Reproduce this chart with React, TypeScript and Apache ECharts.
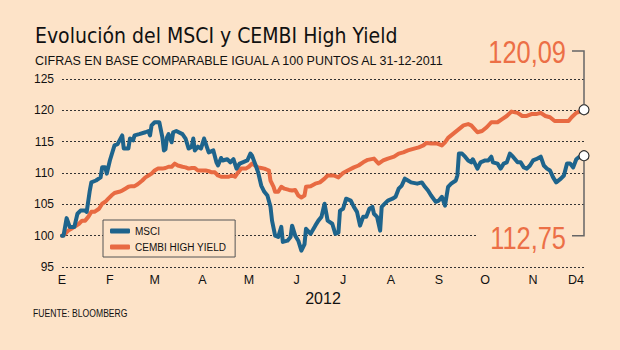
import React, { useEffect, useRef } from "react";
import * as echarts from "echarts";

const titleText = "Evolución del MSCI y CEMBI High Yield";
const subtitleText = "CIFRAS EN BASE COMPARABLE IGUAL A 100 PUNTOS AL 31-12-2011";
const sourceText = "FUENTE: BLOOMBERG";
const yearLabel = "2012";
const monthLetters = ["E", "F", "M", "A", "M", "J", "J", "A", "S", "O", "N", "D4"];
const seriesNames = ["MSCI", "CEMBI HIGH YIELD"];
const endLabels = ["112,75", "120,09"];
const yMin = 95;
const yMax = 125;
const yStep = 5;

// days counted from 1 Jan 2012
const msciDays = [
  0, 1, 3, 5, 8, 10, 12, 15, 16, 18, 19, 22, 25, 26, 28, 29, 31, 34, 36, 39, 40, 43, 44, 46, 47, 50,
  54, 56, 57, 58, 60, 63, 65, 66, 67, 68, 69, 70, 71, 72, 74, 78, 80, 82, 84, 85, 86, 88, 90, 92, 94,
  95, 98, 100, 101, 103, 104, 107, 109, 111, 113, 115, 117, 120, 122, 123, 125, 127, 129, 131, 133,
  135, 136, 138, 140, 142, 143, 146, 148, 149, 151, 153, 155, 157, 158, 161, 164, 166, 168, 170, 172,
  175, 177, 179, 180, 182, 184, 187, 189, 191, 193, 195, 197, 199, 201, 202, 204, 206, 207, 209, 211,
  214, 216, 218, 220, 222, 224, 226, 230, 233, 235, 237, 239, 242, 244, 246, 248, 250, 252, 255, 256,
  257, 259, 261, 263, 265, 266, 269, 271, 274, 276, 278, 279, 282, 284, 286, 288, 290, 292, 295, 297,
  299, 301, 303, 305, 307, 310, 312, 314, 316, 318, 320, 323, 325, 327, 329, 331, 333, 336, 338,
];
const msciValues = [
  100, 100, 102.8, 101.4, 101.4, 103.5, 104, 104, 103.8, 107.2, 108.5, 108.8, 109.3, 110.9, 110.9,
  109.9, 112, 114.4, 114.6, 116, 113.9, 113.9, 115.5, 115.2, 116, 116.2, 116.5, 116.7, 116, 117.6,
  118.1, 118.1, 115.7, 113.6, 113.8, 115.7, 116.2, 115.5, 114.9, 116.5, 116.7, 116.2, 115.5, 113.9,
  114.2, 115.5, 113.6, 114.2, 113.9, 115.5, 114, 113.3, 113.6, 111.7, 111.2, 112.4, 112, 112.2, 111.7,
  112.2, 110.7, 111.5, 111.7, 112, 113.1, 112.8, 111.5, 110.1, 108, 107, 106.4, 104.6, 102.4, 100,
  99.8, 101.4, 99, 99.2, 99.8, 101.6, 100, 99.2, 97.6, 98.6, 101.1, 100.3, 101.6, 102.4, 103, 105.1,
  102.4, 101.9, 100.3, 100.5, 104, 104.3, 105.9, 105.6, 104.6, 103.8, 101.6, 103, 103, 104.3, 104.6,
  103.5, 103, 100.8, 104.6, 105.1, 105.6, 105.9, 106.2, 107.5, 108, 109.1, 108.8, 108.5, 108.3, 108.5,
  107.8, 107.2, 106.4, 105.4, 105.6, 106.2, 104.8, 107.8, 108.3, 108.8, 109.6, 113.1, 113.1, 112.6,
  112, 111.7, 112.2, 110.7, 111.7, 112, 112, 112.6, 111.7, 111.5, 110.7, 111.5, 111.7, 113.1, 112.6,
  111.7, 111.7, 110.9, 110.7, 111.2, 112, 112.2, 112.6, 111.2, 110.7, 110.4, 109.3, 108.5, 109.1,
  109.6, 111.5, 111.5, 110.9, 112.2, 112.8, 112.75,
];
const cembiDays = [
  0, 2, 4, 6, 8, 11, 13, 15, 17, 19, 21, 24, 26, 28, 30, 32, 34, 37, 39, 41, 43, 45, 47, 49, 52, 54,
  56, 58, 60, 62, 65, 67, 69, 71, 73, 75, 78, 80, 82, 84, 86, 88, 90, 93, 95, 97, 99, 101, 103, 106,
  108, 110, 112, 114, 116, 119, 121, 123, 125, 127, 129, 131, 134, 135, 137, 138, 140, 142, 144, 147,
  149, 151, 153, 155, 157, 158, 161, 164, 167, 170, 172, 176, 179, 182, 185, 189, 192, 195, 198, 202,
  205, 208, 211, 215, 218, 221, 224, 228, 231, 234, 236, 239, 243, 246, 248, 250, 253, 257, 260, 263,
  265, 269, 272, 275, 278, 282, 285, 288, 291, 295, 298, 301, 304, 307, 310, 313, 316, 319, 321, 325,
  328, 330, 333, 338,
];
const cembiValues = [
  100, 100.3, 100.8, 101.1, 101.4, 101.9, 102.4, 102.4, 103, 103.8, 103.8, 104.3, 105.1, 105.4, 105.9,
  106.4, 106.8, 107, 107.2, 107.5, 107.8, 107.9, 107.9, 108.2, 108.8, 109.3, 109.6, 109.9, 110.4,
  110.7, 110.7, 110.8, 111, 111, 111.5, 111.2, 111, 110.9, 110.7, 110.8, 110.8, 110.4, 110.4, 110.4,
  110.3, 110.1, 110.1, 109.6, 109.4, 109.4, 109.4, 109.6, 109.4, 110.1, 110.7, 110.7, 111, 111.5,
  111.2, 110.9, 110.8, 110.7, 110.4, 108.8, 107.8, 107, 107, 107.8, 107.5, 107.3, 107.2, 107.3, 106.4,
  106.1, 106.4, 107.8, 107.9, 108.3, 108.5, 109.1, 109.6, 109.6, 109.3, 110, 110.4, 110.9, 111.2,
  111.7, 112.1, 112.3, 111.5, 112, 112.3, 112.6, 113.1, 113.3, 113.6, 113.9, 114.1, 114.4, 114.8,
  114.7, 114.7, 114.4, 114.9, 115.6, 116.2, 117, 117.6, 117.8, 117.6, 116.5, 116.7, 117.3, 118.1,
  118.1, 118.6, 119.1, 119.8, 119.6, 119.1, 119.1, 119.4, 119.4, 119.6, 119.1, 118.9, 118.3, 118.3,
  118.3, 118.3, 118.9, 119.6, 120.09,
];

const BG = "#fde3c8";
const BLUE = "#1e648c";
const ORANGE = "#e86a42";
const LABEL_ORANGE = "#ec6f46";
const SANS = "'Liberation Sans', Arial, sans-serif";
const COND = "'DejaVu Sans Condensed', 'DejaVu Sans', sans-serif";
const INK = "#111111";

const dayToTime = (d: number) => new Date(2012, 0, 1 + d).getTime();

function buildData(days: number[], values: number[]) {
  return days.map((d, i) => {
    const point = [dayToTime(d), values[i]];
    if (i === days.length - 1) {
      return {
        value: point,
        symbol: "circle",
        symbolSize: 10,
        itemStyle: { color: "#ffffff", borderColor: "#333333", borderWidth: 1.2 },
      };
    }
    return point;
  });
}

export default function App() {
  const ref = useRef<HTMLDivElement>(null);
  useEffect(() => {
    if (!ref.current) return;
    const chart = echarts.init(ref.current, undefined, { renderer: "svg" });
    const startT = dayToTime(0);
    const endT = dayToTime(msciDays[msciDays.length - 1]);
    chart.setOption({
      animation: false,
      backgroundColor: BG,
      grid: { left: 62, right: 36, top: 79, bottom: 83 },
      legend: {
        data: seriesNames,
        orient: "vertical",
        left: 103,
        top: 220,
        padding: [4, 9, 3, 7],
        itemGap: 2,
        itemWidth: 20,
        itemHeight: 5,
        icon: "roundRect",
        backgroundColor: BG,
        borderColor: "#555555",
        borderWidth: 1,
        textStyle: { fontFamily: SANS, fontSize: 10, color: INK, lineHeight: 14 },
      },
      xAxis: {
        type: "time",
        min: startT,
        max: endT,
        minInterval: 28 * 86400000,
        maxInterval: 31 * 86400000,
        name: yearLabel,
        nameLocation: "middle",
        nameGap: 22,
        nameTextStyle: { fontFamily: SANS, fontSize: 16, color: INK },
        axisLine: { show: false },
        axisTick: { show: false },
        splitLine: { show: false },
        axisLabel: {
          margin: 6,
          fontFamily: SANS,
          fontSize: 12.5,
          color: INK,
          formatter: (v: number) => {
            const m = new Date(v).getMonth();
            const s = monthLetters[m];
            return m === 11 ? "{d|" + s + "}" : s;
          },
          rich: { d: { fontFamily: SANS, fontSize: 12.5, color: INK, padding: [0, 7, 0, 0] } },
        },
      },
      yAxis: {
        type: "value",
        min: yMin,
        max: yMax,
        interval: yStep,
        axisLine: { show: false },
        axisTick: { show: false },
        axisLabel: { margin: 8, fontFamily: SANS, fontSize: 12, color: INK },
        splitLine: { lineStyle: { color: "#333333", type: [2, 2], width: 1 } },
      },
      series: [
        {
          name: seriesNames[1],
          type: "line",
          data: buildData(cembiDays, cembiValues),
          symbol: "none",
          showSymbol: true,
          showAllSymbol: true,
          lineStyle: { color: ORANGE, width: 4, join: "round", cap: "round" },
          itemStyle: { color: ORANGE },
          z: 3,
        },
        {
          name: seriesNames[0],
          type: "line",
          data: buildData(msciDays, msciValues),
          symbol: "none",
          showSymbol: true,
          showAllSymbol: true,
          lineStyle: { color: BLUE, width: 4, join: "round", cap: "round" },
          itemStyle: { color: BLUE },
          z: 4,
        },
      ],
    });

    const pC = chart.convertToPixel({ gridIndex: 0 }, [endT, cembiValues[cembiValues.length - 1]]) as number[];
    const pM = chart.convertToPixel({ gridIndex: 0 }, [endT, msciValues[msciValues.length - 1]]) as number[];
    const p100 = chart.convertToPixel({ gridIndex: 0 }, [endT, 100]) as number[];
    const x = pC[0];
    const topY = 51;
    const botY = p100[1];
    const gray = "#666666";

    chart.setOption({
      graphic: [
        { type: "text", z: 10, x: 35, y: 36, style: { x: 0, y: 0, text: titleText, fontFamily: COND, fontSize: 21, fill: INK, verticalAlign: "middle" } },
        { type: "text", z: 10, x: 35, y: 61, style: { x: 0, y: 0, text: subtitleText, fontFamily: SANS, fontSize: 12.5, fill: INK, verticalAlign: "middle" } },
        { type: "text", z: 10, x: 33, y: 314, scaleX: 0.86, style: { x: 0, y: 0, text: sourceText, fontFamily: SANS, fontSize: 10, fill: INK, verticalAlign: "middle" } },
        { type: "rect", z: 5, shape: { x: 476, y: botY - 11, width: x - 476, height: 22 }, style: { fill: BG } },
        { type: "text", z: 10, x: x - 18, y: topY + 1, scaleX: 0.82, style: { x: 0, y: 0, text: endLabels[1], fontFamily: SANS, fontSize: 31, fill: LABEL_ORANGE, align: "right", verticalAlign: "middle" } },
        { type: "text", z: 10, x: x - 18, y: botY + 2, scaleX: 0.82, style: { x: 0, y: 0, text: endLabels[0], fontFamily: SANS, fontSize: 31, fill: LABEL_ORANGE, align: "right", verticalAlign: "middle" } },
        { type: "polyline", z: 6, shape: { points: [[x - 12, topY], [x, topY], [x, pC[1] - 5]] }, style: { stroke: gray, lineWidth: 1.5, fill: null } },
        { type: "polyline", z: 6, shape: { points: [[x, pM[1] + 5], [x, botY], [x - 12, botY]] }, style: { stroke: gray, lineWidth: 1.5, fill: null } },
      ],
    });

    return () => chart.dispose();
  }, []);
  return <div ref={ref} style={{ position: "absolute", left: 0, top: 0, width: 620, height: 350 }} />;
}
